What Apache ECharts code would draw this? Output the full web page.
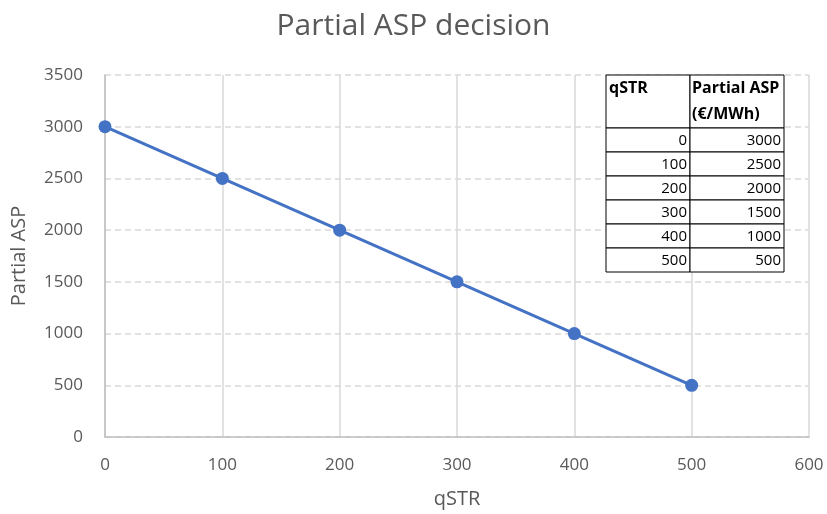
<!DOCTYPE html>
<html>
<head>
<meta charset="utf-8">
<script src="https://cdn.jsdelivr.net/npm/echarts@6/dist/echarts.min.js"></script>
<style>html,body{margin:0;padding:0;background:#fff}#c{width:827px;height:514px}</style>
</head>
<body>
<div id="c"></div>
<script>
const qSTR = [0, 100, 200, 300, 400, 500];
const partialASP = [3000, 2500, 2000, 1500, 1000, 500];
const tableHeader = ['qSTR', 'Partial ASP', '(€/MWh)'];
const titleText = 'Partial ASP decision';

const chart = echarts.init(document.getElementById('c'));
const font = '"Open Sans", "Noto Sans", sans-serif';

// table layout
const tx0 = 606, tx1 = 690, tx2 = 784;
const rowTops = [128, 152, 176, 200, 224, 248, 272];
const headTop = 75;
const hFont = 'bold 16px ' + font;
const nFont = '15px ' + font;
const g = [];
g.push({type:'rect', shape:{x:tx0, y:headTop, width:tx1-tx0, height:rowTops[0]-headTop}, style:{fill:'#fff', stroke:'#000', lineWidth:1}, z:10});
g.push({type:'rect', shape:{x:tx1, y:headTop, width:tx2-tx1, height:rowTops[0]-headTop}, style:{fill:'#fff', stroke:'#000', lineWidth:1}, z:10});
g.push({type:'text', x:tx0+3, y:headTop+13, style:{text:tableHeader[0], font:hFont, fill:'#000', verticalAlign:'middle'}, z:11});
g.push({type:'text', x:tx1+2, y:headTop+13, style:{text:tableHeader[1], font:hFont, fill:'#000', verticalAlign:'middle'}, z:11});
g.push({type:'text', x:tx1+2, y:headTop+39, style:{text:tableHeader[2], font:hFont, fill:'#000', verticalAlign:'middle'}, z:11});
for (let i = 0; i < qSTR.length; i++) {
  const y0 = rowTops[i], h = rowTops[i+1] - rowTops[i];
  g.push({type:'rect', shape:{x:tx0, y:y0, width:tx1-tx0, height:h}, style:{fill:'#fff', stroke:'#000', lineWidth:1}, z:10});
  g.push({type:'rect', shape:{x:tx1, y:y0, width:tx2-tx1, height:h}, style:{fill:'#fff', stroke:'#000', lineWidth:1}, z:10});
  g.push({type:'text', x:tx1-3, y:y0+h/2+1, style:{text:String(qSTR[i]), font:nFont, fill:'#000', align:'right', verticalAlign:'middle'}, z:11});
  g.push({type:'text', x:tx2-3, y:y0+h/2+1, style:{text:String(partialASP[i]), font:nFont, fill:'#000', align:'right', verticalAlign:'middle'}, z:11});
}

chart.setOption({
  animation: false,
  backgroundColor: '#fff',
  title: {
    text: titleText, left: 'center', top: 6,
    textStyle: {fontFamily: font, fontSize: 30, fontWeight: 'normal', color: '#595959'}
  },
  grid: {left: 105, right: 18, top: 75, bottom: 77},
  xAxis: {
    type: 'value', min: 0, max: 600, interval: 100,
    name: 'qSTR', nameLocation: 'middle', nameGap: 52,
    nameTextStyle: {fontFamily: font, fontSize: 20, color: '#595959'},
    axisLine: {show: true, lineStyle: {color: '#bfbfbf', width: 1.5}},
    axisTick: {show: false},
    axisLabel: {fontFamily: font, fontSize: 17, color: '#595959', margin: 20},
    splitLine: {show: true, lineStyle: {color: '#d9d9d9', width: 1.5, type: 'solid'}}
  },
  yAxis: {
    type: 'value', min: 0, max: 3500, interval: 500,
    name: 'Partial ASP', nameLocation: 'middle', nameGap: 76,
    nameTextStyle: {fontFamily: font, fontSize: 20, color: '#595959'},
    axisLine: {show: true, lineStyle: {color: '#bfbfbf', width: 1.5}},
    axisTick: {show: false},
    axisLabel: {fontFamily: font, fontSize: 17, color: '#595959', margin: 22, formatter: v => String(v)},
    splitLine: {show: true, lineStyle: {color: '#d9d9d9', width: 1.5, type: [6, 4]}}
  },
  series: [{
    type: 'line',
    data: qSTR.map((q, i) => [q, partialASP[i]]),
    lineStyle: {color: '#4472C4', width: 3},
    itemStyle: {color: '#4472C4'},
    symbol: 'circle', symbolSize: 13,
    z: 5
  }],
  graphic: g
});
</script>
</body>
</html>
